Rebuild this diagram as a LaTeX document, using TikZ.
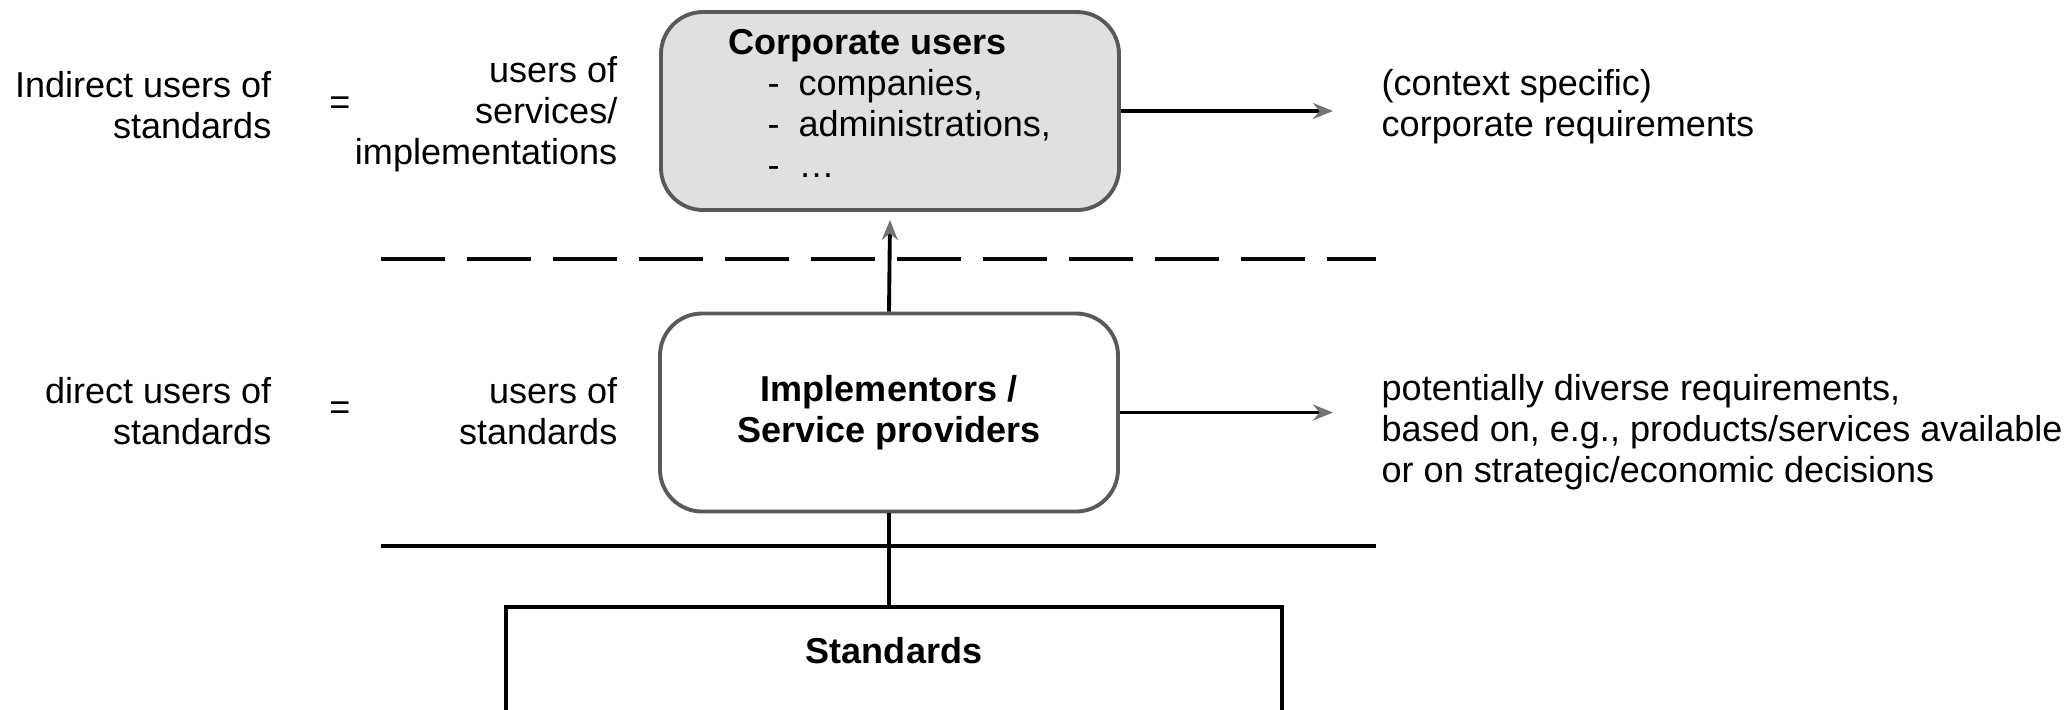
\documentclass[tikz,border=0pt]{standalone}
\usepackage{fontspec}
\setmainfont{Liberation Sans}
\usepackage{tikz}
\usetikzlibrary{arrows.meta}
\usetikzlibrary{calc}
\newcommand{\corpitem}[1]{\hspace*{0.39cm}\makebox[0.31cm][l]{-}#1}

\begin{document}
\begin{tikzpicture}[font=\fontsize{10.25}{11.65}\selectfont,
  usrbox/.style={draw=black!65,line width=1.1pt,rounded corners=0.42cm,minimum width=4.58cm,minimum height=1.98cm,align=center,font=\fontsize{10.25}{11.65}\selectfont\bfseries},
  txt/.style={inner sep=0pt},
  flow/.style={line width=1.1pt,-{Stealth[length=2mm,width=1.6mm,color=black!55]}},
  sep/.style={line width=1.1pt}]
\useasboundingbox (0,0) rectangle (20.72,-7.09);
\node[usrbox,fill=black!12] (corp) at (8.90,-1.11) {};
\node[txt,anchor=north west,align=left] (corplist) at (7.28,-0.29) {\textbf{Corporate users}\\\corpitem{companies,}\\\corpitem{administrations,}\\\corpitem{\ldots}};
\node[usrbox] (impl) at (8.89,-4.125) {Implementors /\\Service providers};
\node[draw,line width=1.1pt,anchor=north,minimum width=7.76cm,inner ysep=0.3cm,text depth=1.5cm,font=\fontsize{10.25}{11.65}\selectfont\bfseries] (std) at (8.94,-6.05) {Standards};
\coordinate (dashL) at (3.81,-2.59);
\coordinate (dashR) at (13.76,-2.59);
\coordinate (solidL) at (3.81,-5.46);
\coordinate (solidR) at (13.76,-5.46);
\coordinate (reqA) at (13.33,-1.11);
\coordinate (reqB) at (13.33,-4.125);
\draw[sep,dash pattern=on 0.64cm off 0.22cm] (dashL) -- (dashR);
\draw[sep] (solidL) -- (solidR);
\draw[flow] (impl.north) -- ($(corp.south)+(0,-0.08)$);
\draw[sep] (impl.south) -- (impl.south |- std.north);
\draw[flow] (corp.east) -- (reqA);
\draw[flow] (impl.east) -- (reqB);
\node[txt,anchor=north west,align=left] (corpreq) at (13.81,-0.69) {(context specific)\\corporate requirements};
\node[txt,anchor=north west,align=left] (implreq) at (13.81,-3.74) {potentially diverse requirements,\\based on, e.g., products/services available\\or on strategic/economic decisions};
\node[txt,anchor=north east,align=right] (indirect) at (2.72,-0.71) {Indirect users of\\standards};
\node[txt] (eqA) at (3.40,-1.06) {=};
\node[txt,anchor=north east,align=right] (usersA) at (6.18,-0.56) {users of\\services/\\implementations};
\node[txt,anchor=north east,align=right] (direct) at (2.72,-3.77) {direct users of\\standards};
\node[txt] (eqB) at (3.40,-4.11) {=};
\node[txt,anchor=north east,align=right] (usersB) at (6.18,-3.77) {users of\\standards};
\end{tikzpicture}
\end{document}
